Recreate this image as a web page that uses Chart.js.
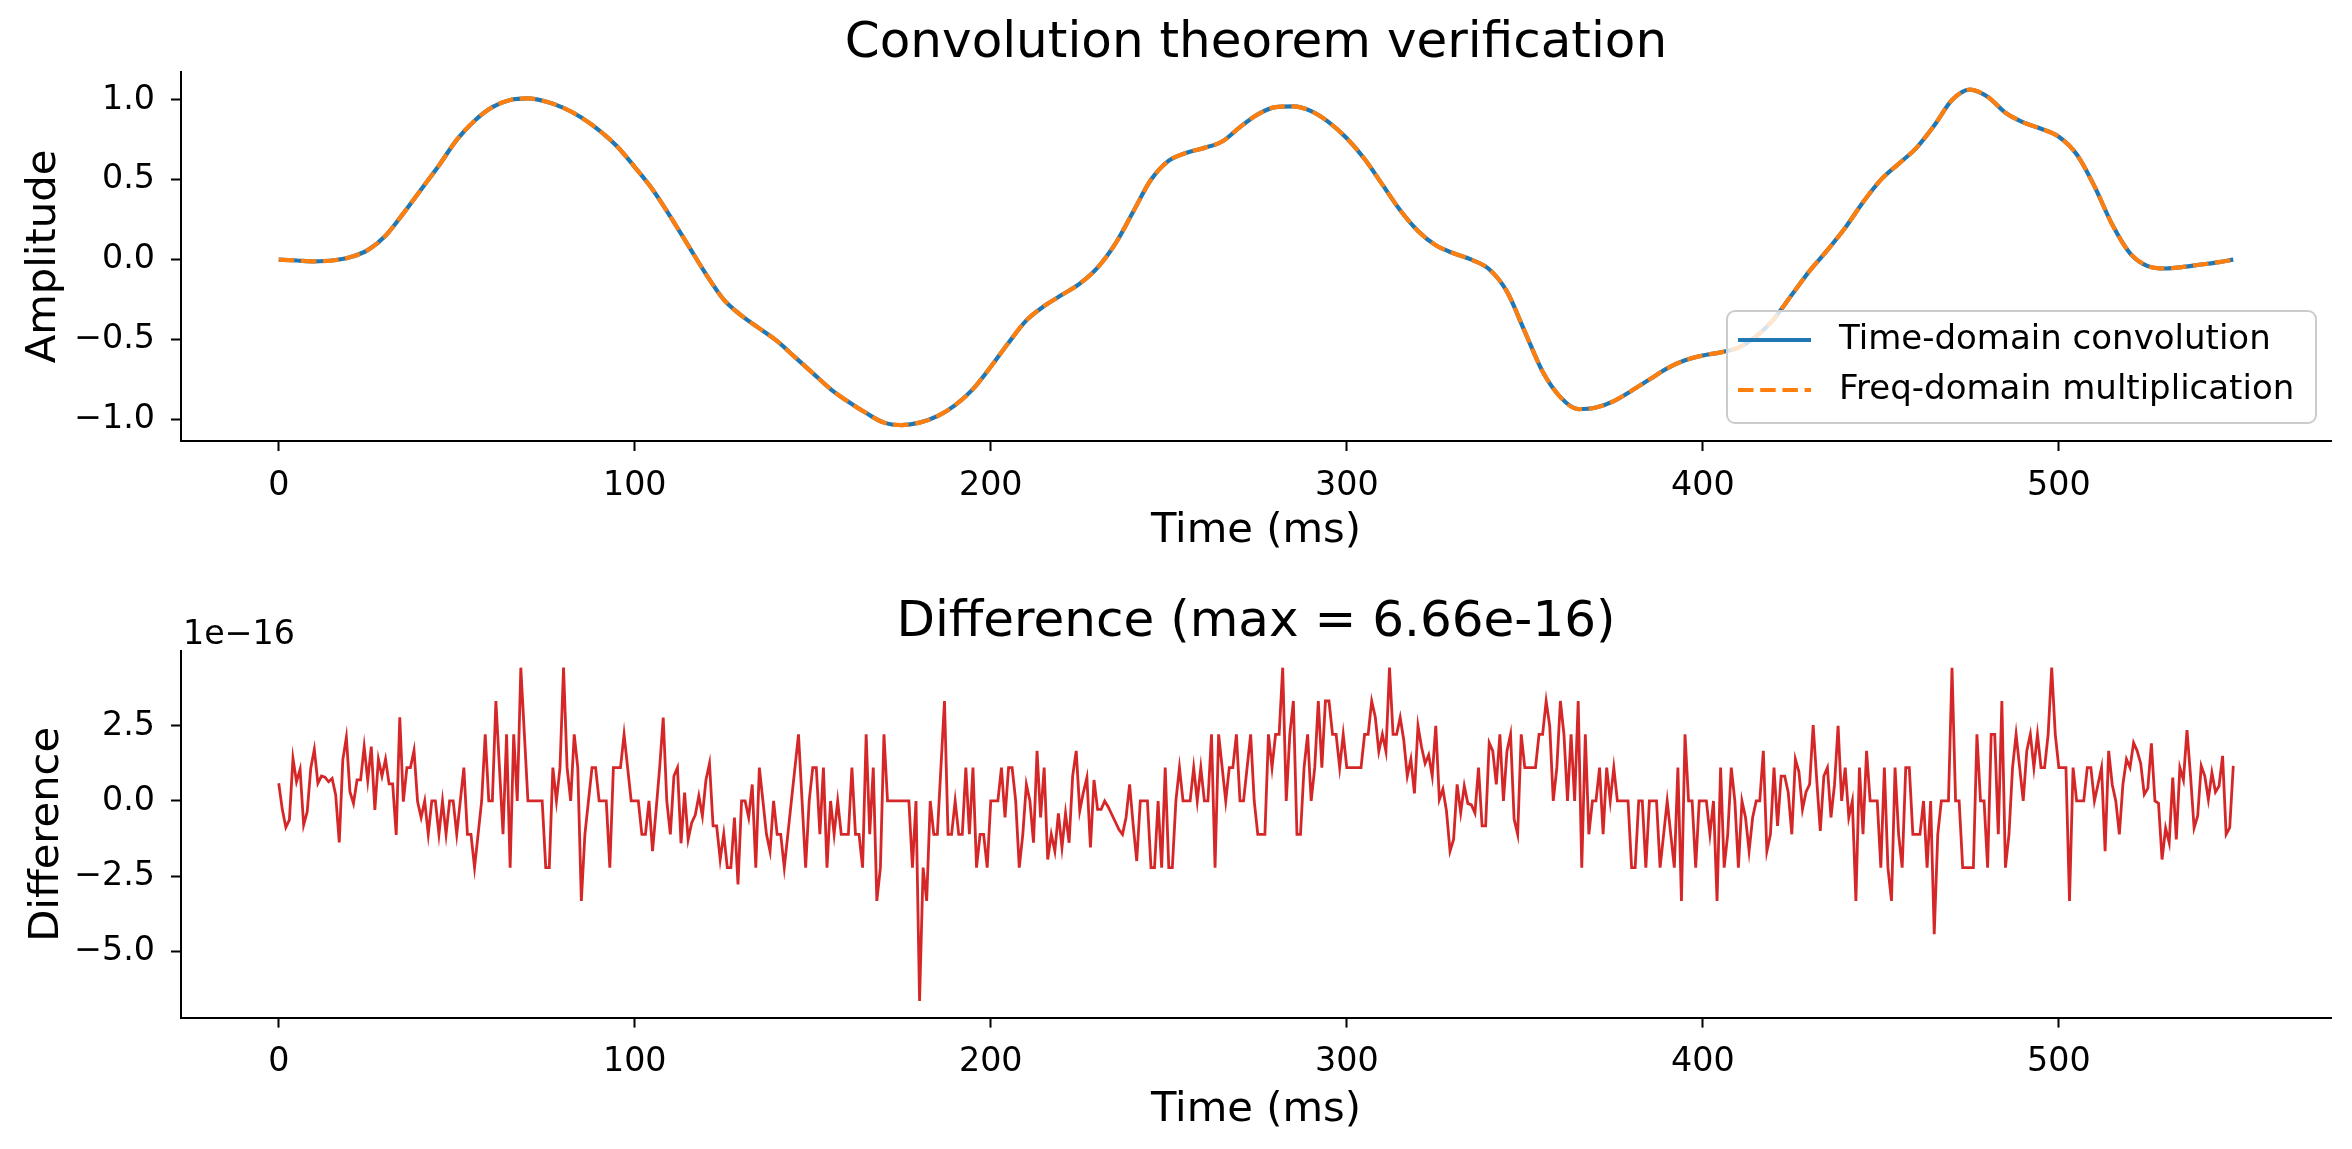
<!DOCTYPE html>
<html>
<head>
<meta charset="utf-8">
<title>Convolution theorem verification</title>
<script src="https://cdn.jsdelivr.net/npm/chart.js@4.4.0/dist/chart.umd.min.js"></script>
<style>
  html, body { margin: 0; padding: 0; background: #fff; }
  #wrap { position: relative; width: 2352px; height: 1149px; }
  canvas { position: absolute; left: 0; }
  #top { top: 0; }
  #bottom { top: 575px; }
</style>
</head>
<body>
<div id="wrap">
  <canvas id="top" width="2352" height="575"></canvas>
  <canvas id="bottom" width="2352" height="574"></canvas>
</div>
<script>
const convTimes = [0, 5, 10, 15, 20, 25, 30, 35, 40, 45, 50, 55, 60, 65, 70, 75, 80, 85, 90, 95,
  100, 105, 110, 115, 120, 125, 130, 135, 140, 145, 150, 155, 160, 165, 170, 175, 180, 185, 190, 195,
  200, 205, 210, 215, 220, 225, 230, 235, 240, 245, 250, 255, 260, 265, 270, 275, 280, 285, 290, 295,
  300, 305, 310, 315, 320, 325, 330, 335, 340, 345, 350, 355, 360, 365, 370, 375, 380, 385, 390, 395,
  400, 405, 410, 415, 420, 425, 430, 435, 440, 445, 450, 455, 460, 465, 470, 475, 480, 485, 490, 495,
  500, 505, 510, 515, 520, 525, 530, 535, 540, 545, 549];
const convValues = [0.0, -0.005, -0.01, -0.005, 0.015, 0.06, 0.15, 0.29, 0.44, 0.59, 0.75, 0.87, 0.955, 1.0, 1.01, 0.99, 0.95, 0.89, 0.81, 0.71,
  0.58, 0.44, 0.27, 0.09, -0.09, -0.25, -0.35, -0.43, -0.51, -0.61, -0.71, -0.81, -0.89, -0.96, -1.02, -1.035, -1.02, -0.98, -0.91, -0.81,
  -0.67, -0.52, -0.38, -0.29, -0.22, -0.15, -0.05, 0.1, 0.3, 0.5, 0.62, 0.67, 0.7, 0.74, 0.83, 0.91, 0.955, 0.96, 0.93, 0.86,
  0.76, 0.63, 0.47, 0.31, 0.18, 0.09, 0.04, 0.0, -0.06, -0.2, -0.45, -0.7, -0.86, -0.935, -0.925, -0.885, -0.82, -0.75, -0.68, -0.63,
  -0.6, -0.58, -0.55, -0.48, -0.37, -0.22, -0.07, 0.06, 0.2, 0.36, 0.5, 0.6, 0.7, 0.84, 1.0, 1.065, 1.02, 0.92, 0.86, 0.82,
  0.77, 0.66, 0.46, 0.22, 0.04, -0.04, -0.055, -0.045, -0.03, -0.015, 0.0];

// bottom panel: difference, one sample per ms (0..549), in units of 1e-16
const diffValues = [
  0.59, -0.28, -0.88, -0.63, 1.42, 0.64, 1.05, -0.8, -0.36, 1.09,
  1.72, 0.59, 0.83, 0.79, 0.64, 0.75, 0.2, -1.38, 1.37, 2.12,
  0.31, -0.08, 0.7, 0.7, 1.81, 0.68, 1.81, -0.3, 1.39, 0.83,
  1.39, 0.57, 0.57, -1.13, 2.79, -0.02, 1.11, 1.11, 1.68, -0.02,
  -0.55, 0, -1.11, 0, 0, -1.11, 0, -1.11, 0, 0,
  -1.11, 0, 1.11, -1.11, -1.11, -2.22, -1.11, 0, 2.22, 0,
  0, 3.33, 1.11, -1.11, 2.22, -2.22, 2.22, 0, 4.44, 2.22,
  0, 0, 0, 0, 0, -2.22, -2.22, 1.11, 0, 1.11,
  4.44, 1.11, 0, 2.22, 1.11, -3.33, -1.11, 0, 1.11, 1.11,
  0, 0, 0, -2.22, 1.11, 1.11, 1.11, 2.22, 1.11, 0,
  0, 0, -1.11, -1.11, 0, -1.67, -0.3, 1.11, 2.78, 0,
  -1.11, 0.83, 1.11, -1.41, 0.28, -1.28, -0.72, -0.47, 0.17, -0.5,
  0.7, 1.25, -0.83, -0.83, -1.95, -1.1, -2.22, -2.22, -0.55, -2.78,
  0, 0, -0.55, 0.55, -2.22, 1.11, 0, -1.11, -1.67, 0,
  -1.11, -1.11, -2.22, -1.11, 0, 1.11, 2.22, 0, -2.22, 0,
  1.11, 1.11, -1.11, 1.11, -2.22, 0, -1.11, 0, -1.11, -1.11,
  -1.11, 1.11, -1.11, -1.11, -2.22, 2.22, -1.11, 1.11, -3.33, -2.22,
  2.22, 0, 0, 0, 0, 0, 0, 0, -2.22, 0,
  -6.66, -2.22, -3.33, 0, -1.11, -1.11, 1.11, 3.33, -1.11, -1.11,
  0, -1.11, -1.11, 1.11, -1.11, 1.11, -2.22, -1.11, -1.11, -2.22,
  0, 0, 0, 1.11, -0.55, 1.11, 1.11, 0, -2.22, -1.11,
  0.55, 0, -1.39, 1.67, -0.55, 1.11, -1.95, -1.11, -1.67, -0.41,
  -1.55, -0.41, -1.39, 0.83, 1.67, -0.33, 0.28, 0.78, -1.55, 0.7,
  -0.28, -0.28, 0, -0.2, -0.45, -0.7, -0.95, -1.11, -0.55, 0.55,
  -0.8, -2.0, 0, 0, 0, -2.22, -2.22, 0, -2.22, 1.11,
  -2.22, -2.22, 0, 1.11, 0, 0, 0, 1.11, 0, 1.11,
  0, 0, 2.22, -2.22, 2.22, 1.11, 0, 1.11, 1.11, 2.22,
  0, 0, 1.11, 2.22, 0, -1.11, -1.11, -1.11, 2.22, 1.11,
  2.22, 2.22, 4.44, 0, 2.22, 3.33, -1.11, -1.11, 1.11, 2.22,
  0, 1.11, 3.33, 1.11, 3.33, 3.33, 2.22, 2.22, 1.11, 2.22,
  1.11, 1.11, 1.11, 1.11, 1.11, 2.22, 2.22, 3.33, 2.8, 1.65,
  2.22, 1.65, 4.44, 2.22, 2.22, 2.78, 2.03, 0.83, 1.39, 0.25,
  2.5, 1.8, 1.25, 1.53, 0.83, 2.5, 0.05, 0.39, -0.33, -1.67,
  -1.28, 0.55, -0.39, 0.5, -0.08, -0.13, -0.4, 1.11, -0.83, -0.83,
  1.94, 1.67, 0.55, 2.22, 0, 1.67, 2.22, -0.6, -1.11, 2.22,
  1.11, 1.11, 1.11, 1.11, 2.22, 2.22, 3.33, 2.5, 0, 1.11,
  3.33, 2.22, 0, 2.22, 0, 3.33, -2.22, 2.22, -1.11, 0,
  0, 1.11, -1.11, 1.11, 0, 1.11, 0, 0, 0, 0,
  -2.22, -2.22, 0, 0, -2.22, 0, 0, 0, -2.22, -1.11,
  0, -1.11, -2.22, 1.11, -3.33, 2.22, 0, 0, -2.22, 0,
  0, 0, -1.11, 0, -3.33, 1.11, -2.22, -1.11, 1.11, 0,
  -2.22, 0, -0.55, -1.67, -0.55, 0, 0, 1.67, -1.67, -1.11,
  1.11, -0.83, 0.83, 0.83, 0.28, -1.11, 1.39, 0.97, -0.28, 0.3,
  0.55, 2.53, 0.7, -1.0, 0.83, 1.11, -0.55, 0.55, 2.5, 0,
  1.11, -0.55, 0, -3.33, 1.11, -1.11, 1.67, 0, 0, 0,
  -2.22, 1.11, -2.22, -3.33, 1.11, -1.11, -2.22, 1.11, 1.11, -1.11,
  -1.11, -1.11, 0, -2.22, 0, -4.44, -1.11, 0, 0, 0,
  4.44, 0, 0, -2.22, -2.22, -2.22, -2.22, 2.22, 0, 0,
  -2.22, 2.22, 2.22, -1.11, 3.33, -2.22, -1.11, 1.11, 2.22, 1.11,
  0, 1.67, 2.22, 1.11, 2.22, 1.11, 1.11, 2.22, 4.44, 2.22,
  1.11, 1.11, 1.11, -3.33, 1.11, 0, 0, 0, 1.11, 1.11,
  0, 0.55, 1.11, -1.67, 1.67, 0.55, 0, -1.11, 0.55, 1.39,
  1.11, 1.94, 1.67, 1.25, 0.22, 0.42, 1.92, 0, -0.08, -1.95,
  -0.9, -1.39, 0.78, -1.28, 1.11, 0.7, 2.36, 0.83, -0.9, -0.5,
  1.17, 0.83, 0.05, 0.94, 0.3, 0.5, 1.5, -1.11, -0.89, 1.17
];

const xTicks = [0, 100, 200, 300, 400, 500];
const ampTicks = [-1.0, -0.5, 0.0, 0.5, 1.0];
const diffTicks = [-5.0, -2.5, 0.0, 2.5];

const FONT = "'DejaVu Sans', sans-serif";
Chart.defaults.font.family = FONT;
Chart.defaults.color = '#000';

function fmt(v) {
    return v.toFixed(1).replace('-', '\u2212');
}

function xAxis(height, titlePad) {
    return {
        type: 'linear',
        min: -27.45,
        max: 576.45,
        afterBuildTicks: s => { s.ticks = xTicks.map(v => ({ value: v })); },
        afterFit: s => { s.height = height; },
        ticks: { font: { size: 33.3 }, padding: 15, maxRotation: 0, callback: v => String(v) },
        grid: { drawOnChartArea: false, drawTicks: true, tickLength: 10, tickWidth: 2, tickColor: '#000' },
        border: { display: true, color: '#000', width: 2 },
        title: { display: true, text: 'Time (ms)', font: { size: 41.7 }, padding: { top: 0, bottom: titlePad } }
    };
}

function yAxis(min, max, ticks, label, titlePad) {
    return {
        type: 'linear',
        min: min,
        max: max,
        afterBuildTicks: s => { s.ticks = ticks.map(v => ({ value: v })); },
        afterFit: s => { s.width = 181; },
        ticks: { font: { size: 33.3 }, padding: 16, callback: v => fmt(v) },
        grid: { drawOnChartArea: false, drawTicks: true, tickLength: 10, tickWidth: 2, tickColor: '#000' },
        border: { display: true, color: '#000', width: 2 },
        title: { display: true, text: label, font: { size: 41.7 }, padding: { top: titlePad, bottom: 0 } }
    };
}

// matplotlib style legend in the lower right of the axes
const legendBox = {
    id: 'legendBox',
    afterDatasetsDraw(chart) {
        const { ctx, chartArea } = chart;
        const w = 589, h = 112;
        const right = chartArea.right - 15;
        const bottom = chartArea.bottom - 18;
        const left = right - w, top = bottom - h;
        ctx.save();
        ctx.beginPath();
        ctx.roundRect(left, top, w, h, 8);
        ctx.fillStyle = 'rgba(255,255,255,0.8)';
        ctx.fill();
        ctx.strokeStyle = '#cccccc';
        ctx.lineWidth = 2;
        ctx.stroke();
        chart.data.datasets.forEach((ds, i) => {
            const y = top + 29 + i * 50;
            ctx.beginPath();
            ctx.setLineDash(ds.borderDash || []);
            ctx.strokeStyle = ds.borderColor;
            ctx.lineWidth = ds.borderWidth;
            ctx.moveTo(left + 11, y);
            ctx.lineTo(left + 84, y);
            ctx.stroke();
            ctx.setLineDash([]);
            ctx.fillStyle = '#000';
            ctx.font = '34px ' + FONT;
            ctx.textBaseline = 'middle';
            ctx.textAlign = 'left';
            ctx.fillText(ds.label, left + 112, y);
        });
        ctx.restore();
    }
};

// scale factor text above the y axis
const offsetText = {
    id: 'offsetText',
    afterDraw(chart) {
        const { ctx, chartArea } = chart;
        ctx.save();
        ctx.fillStyle = '#000';
        ctx.font = '33.3px ' + FONT;
        ctx.textBaseline = 'alphabetic';
        ctx.textAlign = 'left';
        ctx.fillText('1e\u221216', chartArea.left + 2, chartArea.top - 7);
        ctx.restore();
    }
};

const convPoints = convTimes.map((t, i) => ({ x: t, y: convValues[i] }));
const diffPoints = diffValues.map((v, i) => ({ x: i, y: v }));

new Chart(document.getElementById('top'), {
    type: 'line',
    data: {
        datasets: [{
            label: 'Time-domain convolution',
            data: convPoints,
            borderColor: '#1f77b4',
            borderWidth: 4.2,
            pointRadius: 0,
            cubicInterpolationMode: 'monotone',
            order: 1
        }, {
            label: 'Freq-domain multiplication',
            data: convPoints,
            borderColor: '#ff7f0e',
            borderWidth: 4.2,
            borderDash: [15.5, 6.7],
            pointRadius: 0,
            cubicInterpolationMode: 'monotone',
            order: 0
        }]
    },
    options: {
        responsive: false,
        animation: false,
        layout: { padding: { left: 0, right: 21, top: 0, bottom: 0 } },
        plugins: {
            legend: { display: false },
            tooltip: { enabled: false },
            title: {
                display: true,
                fullSize: false,
                text: 'Convolution theorem verification',
                font: { size: 50, weight: 'normal', lineHeight: 1.0 },
                color: '#000',
                padding: { top: 19, bottom: 3 }
            }
        },
        scales: {
            x: xAxis(134, 19),
            y: yAxis(-1.135, 1.175, ampTicks, 'Amplitude', 19)
        }
    },
    plugins: [legendBox]
});

new Chart(document.getElementById('bottom'), {
    type: 'line',
    data: {
        datasets: [{
            label: 'Difference',
            data: diffPoints,
            borderColor: '#d62728',
            borderWidth: 2.8,
            pointRadius: 0,
            tension: 0
        }]
    },
    options: {
        responsive: false,
        animation: false,
        layout: { padding: { left: 0, right: 21, top: 0, bottom: 0 } },
        plugins: {
            legend: { display: false },
            tooltip: { enabled: false },
            title: {
                display: true,
                fullSize: false,
                text: 'Difference (max = 6.66e-16)',
                font: { size: 50, weight: 'normal', lineHeight: 1.0 },
                color: '#000',
                padding: { top: 23, bottom: 3 }
            }
        },
        scales: {
            x: xAxis(131.4, 14),
            y: yAxis(-7.215, 4.995, diffTicks, 'Difference', 22)
        }
    },
    plugins: [offsetText]
});
</script>
</body>
</html>
